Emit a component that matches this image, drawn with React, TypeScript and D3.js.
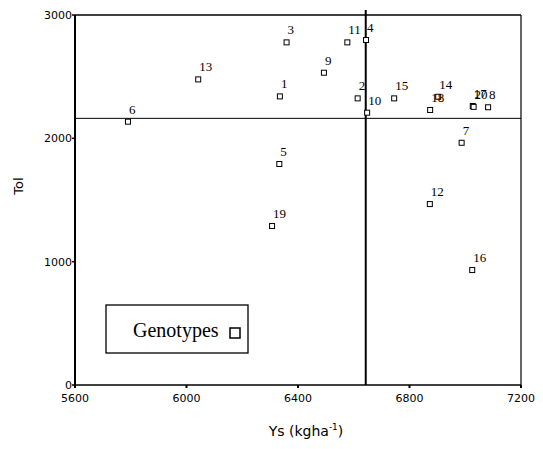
import React from "react";
import * as d3 from "d3";

const genotypes = ["1","2","3","4","5","6","7","8","9","10","11","12","13","14","15","16","17","18","19","20"];
const ysValues = [6335, 6614, 6359, 6644, 6333, 5790, 6987, 7082, 6493, 6648, 6577, 6873, 6042, 6903, 6745, 7025, 7027, 6874, 6307, 7030];
const tolValues = [2340, 2324, 2778, 2797, 1792, 2135, 1964, 2252, 2532, 2208, 2778, 1467, 2478, 2337, 2324, 932, 2262, 2230, 1289, 2255];
const xTicks = [5600, 6000, 6400, 6800, 7200];
const yTicks = [0, 1000, 2000, 3000];
const meanYs = 6643;
const meanTol = 2162;

export default function App() {
  const W = 543, H = 449;
  const left = 75, right = 521, top = 15, bottom = 385;
  const x = d3.scaleLinear().domain([5600, 7200]).range([left, right]);
  const y = d3.scaleLinear().domain([0, 3000]).range([bottom, top]);
  const sans = "'DejaVu Sans', sans-serif";
  const serif = "'Liberation Serif', 'Times New Roman', serif";
  return (
    <svg width={W} height={H} style={{ position: "absolute", left: 0, top: 0, background: "#fff" }}>
      <rect x={0} y={0} width={W} height={H} fill="#fff" />
      {/* frame */}
      <line x1={left} x2={right} y1={top} y2={top} stroke="#000" strokeWidth={1.3} />
      <line x1={right} x2={right} y1={top} y2={bottom} stroke="#000" strokeWidth={1.2} />
      <line x1={left} x2={right} y1={bottom} y2={bottom} stroke="#000" strokeWidth={1.6} />
      <line x1={left} x2={left} y1={top} y2={bottom} stroke="#000" strokeWidth={2} />
      {/* mean lines */}
      <line x1={left} x2={right} y1={y(meanTol)} y2={y(meanTol)} stroke="#000" strokeWidth={1} />
      <line x1={x(meanYs)} x2={x(meanYs)} y1={top - 5} y2={bottom} stroke="#000" strokeWidth={2} />
      {/* ticks */}
      {xTicks.map((t) => (
        <g key={"x" + t}>
          <line x1={x(t)} x2={x(t)} y1={bottom} y2={bottom + 3} stroke="#000" strokeWidth={2} />
          <text x={x(t)} y={402} textAnchor="middle" fontFamily={sans} fontSize={11} fill="#000">{t}</text>
        </g>
      ))}
      {yTicks.map((t) => (
        <g key={"y" + t}>
          <line x1={left - 3} x2={left} y1={y(t)} y2={y(t)} stroke="#000" strokeWidth={1.5} />
          <text x={72} y={y(t) + 4} textAnchor="end" fontFamily={sans} fontSize={11} fill="#000">{t}</text>
        </g>
      ))}
      <text transform={`translate(23,186) rotate(-90)`} textAnchor="middle" fontFamily={sans} fontSize={13} fill="#000">Tol</text>
      <text x={306} y={436} textAnchor="middle" fontFamily={sans} fontSize={14} fill="#000">
        Ys (kgha<tspan dy={-6} fontSize={9}>-1</tspan><tspan dy={6}>)</tspan>
      </text>
      {/* points */}
      {genotypes.map((g, i) => (
        <g key={g}>
          <rect x={x(ysValues[i]) - 2.5} y={y(tolValues[i]) - 2.5} width={5} height={5} fill="#fff" stroke="#000" strokeWidth={1} />
          <text x={x(ysValues[i]) + 1} y={y(tolValues[i]) - 8} fontFamily={serif} fontSize={13} fill="#000">{g}</text>
        </g>
      ))}
      {/* legend */}
      <rect x={106} y={305} width={142} height={48} fill="#fff" stroke="#000" strokeWidth={1.3} />
      <text x={133} y={337} fontFamily={serif} fontSize={20} fill="#000">Genotypes</text>
      <rect x={230} y={328} width={10} height={10} fill="#fff" stroke="#000" strokeWidth={1.5} />
    </svg>
  );
}
